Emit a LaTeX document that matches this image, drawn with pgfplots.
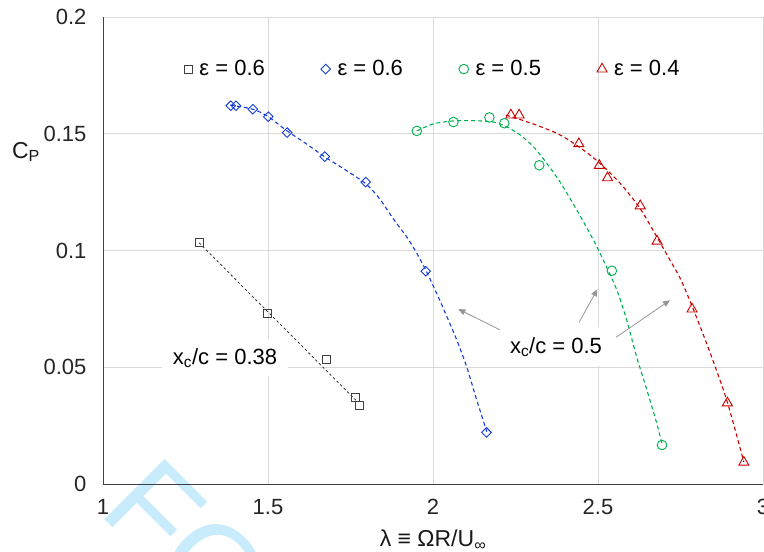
\documentclass[border=0pt]{standalone}
\usepackage{pgfplots}
\pgfplotsset{compat=1.18}
\usepackage{fontspec}
\setmainfont{Liberation Sans}
\usetikzlibrary{arrows.meta}
\definecolor{cblk}{RGB}{64,64,64}
\definecolor{cblue}{RGB}{20,60,220}
\definecolor{cgreen}{RGB}{0,176,80}
\definecolor{cred}{RGB}{200,0,0}
\definecolor{cgrid}{RGB}{217,217,217}
\definecolor{carrow}{RGB}{150,150,150}
\definecolor{cwm}{RGB}{200,236,252}
\begin{document}
\begin{tikzpicture}
\useasboundingbox (-103pt,-68pt) rectangle (661pt,484pt);
\node[overlay, rotate=-45, anchor=base west, inner sep=0pt, text=cwm, font=\fontsize{124}{124}\selectfont] at (-6pt,-28pt) {FOR PEER REVIEW};
\begin{axis}[
  scale only axis, width=660pt, height=467pt,
  xmin=1, xmax=3, ymin=0, ymax=0.2,
  xtick={1,1.5,2,2.5,3}, ytick={0,0.05,0.1,0.15,0.2},
  scaled y ticks=false, scaled x ticks=false,
  yticklabel style={/pgf/number format/fixed, /pgf/number format/precision=2},
  xticklabel style={/pgf/number format/fixed, /pgf/number format/precision=1},
  axis lines=left, axis line style={-, cblk, line width=0.8pt},
  major tick length=0pt,
  grid=major, grid style={cgrid, line width=0.8pt},
  /pgf/number format/assume math mode=true,
  tick label style={font=\fontsize{22}{26}\selectfont, text=black!85},
  xticklabel style={anchor=north, yshift=-12pt},
  yticklabel style={anchor=east, xshift=-13pt},
  xlabel={λ ≡ ΩR/U\textsubscript{∞}},
  ylabel={C\textsubscript{P}},
  label style={font=\fontsize{23}{27}\selectfont, text=black!90},
  xlabel style={at={(axis description cs:0.5,-0.12)}, anchor=center},
  ylabel style={rotate=-90, at={(axis description cs:-0.1167,0.711)}, anchor=center},
  legend columns=4,
  legend style={draw=none, fill=none, at={(axis cs:2.0,0.1777)}, anchor=center,
    font=\fontsize{22}{26}\selectfont,
    /tikz/every odd column/.append style={column sep=5pt},
    /tikz/every even column/.append style={column sep=54pt}},
  legend image code/.code={\draw[#1, mark repeat=1] plot coordinates {(0pt,0pt)};},
]
% trendlines
\addplot[cblk, line width=0.9pt, dash pattern=on 2.5pt off 2.5pt, forget plot] coordinates {(1.291,0.1033) (1.772,0.0351)};
\addplot[cblue, line width=1.1pt, dash pattern=on 4pt off 3pt, smooth, forget plot] coordinates {
(1.385,0.1623) (1.454,0.1605) (1.501,0.1573) (1.558,0.1512) (1.615,0.1458) (1.673,0.1400) (1.735,0.1345) (1.797,0.1285) (1.839,0.1220) (1.880,0.1135) (1.920,0.1059) (1.951,0.0988) (1.979,0.0913) (2.011,0.0817) (2.042,0.0717) (2.072,0.0617) (2.102,0.0502) (2.132,0.0362) (2.163,0.0224)};
\addplot[cgreen, line width=1.1pt, dash pattern=on 4pt off 3pt, smooth, forget plot] coordinates {
(1.951,0.1512) (2.001,0.1542) (2.062,0.1555) (2.122,0.1556) (2.183,0.1550) (2.223,0.1530) (2.264,0.1495) (2.304,0.1445) (2.345,0.1373) (2.385,0.1293) (2.436,0.1173) (2.486,0.1045) (2.516,0.0959) (2.557,0.0831) (2.587,0.0702) (2.617,0.0545) (2.648,0.0403) (2.678,0.0260) (2.694,0.0171)};
\addplot[cred, line width=1.1pt, dash pattern=on 4pt off 3pt, smooth, forget plot] coordinates {
(2.221,0.1580) (2.304,0.1542) (2.385,0.1495) (2.456,0.1430) (2.506,0.1373) (2.567,0.1288) (2.627,0.1181) (2.678,0.1059) (2.718,0.0959) (2.749,0.0881) (2.785,0.0762) (2.839,0.0565) (2.891,0.0355) (2.942,0.0094)};
% data
\addplot[only marks, mark=square, mark size=4pt, cblk, mark options={line width=0.9pt}] coordinates {
(1.291,0.1033) (1.498,0.0731) (1.676,0.0534) (1.766,0.0371) (1.778,0.0338)};
\addlegendentry{ε = 0.6}
\addplot[only marks, mark=square, mark size=3.4pt, cblue, mark options={line width=0.9pt, rotate=45}] coordinates {
(1.387,0.1620) (1.403,0.1620) (1.454,0.1605) (1.501,0.1573) (1.558,0.1505) (1.672,0.1402) (1.796,0.1293) (1.978,0.0911) (2.162,0.0221)};
\addlegendentry{ε = 0.6}
\addplot[only marks, mark=o, mark size=4.8pt, cgreen, mark options={line width=0.9pt}] coordinates {
(1.951,0.1512) (2.062,0.1550) (2.171,0.1570) (2.216,0.1545) (2.322,0.1365) (2.542,0.0913) (2.694,0.0167)};
\addlegendentry{ε = 0.5}
\addplot[only marks, mark=triangle, mark size=5.8pt, cred, mark options={line width=0.9pt}] coordinates {
(2.236,0.1580) (2.261,0.1580) (2.442,0.1457) (2.504,0.1364) (2.529,0.1311) (2.628,0.1191) (2.679,0.1040) (2.785,0.0749) (2.892,0.0347) (2.942,0.0093)};
\addlegendentry{ε = 0.4}
% annotations
\node[fill=white, inner sep=0pt, minimum width=126pt, minimum height=37pt, font=\fontsize{22}{26}\selectfont] at (axis cs:1.3697,0.054) {x\textsubscript{c}/c = 0.38};
\node[fill=white, inner sep=0pt, minimum width=114pt, minimum height=39pt, font=\fontsize{22}{26}\selectfont] at (axis cs:2.3727,0.0587) {x\textsubscript{c}/c = 0.5};
\draw[carrow, line width=0.8pt, -{Triangle[length=7pt,width=6pt]}] (axis cs:2.203,0.066) -- (axis cs:2.0767,0.0749);
\draw[carrow, line width=0.8pt, -{Triangle[length=7pt,width=6pt]}] (axis cs:2.443,0.0693) -- (axis cs:2.498,0.0834);
\draw[carrow, line width=0.8pt, -{Triangle[length=7pt,width=6pt]}] (axis cs:2.5545,0.0628) -- (axis cs:2.718,0.0787);
\end{axis}
\end{tikzpicture}
\end{document}
